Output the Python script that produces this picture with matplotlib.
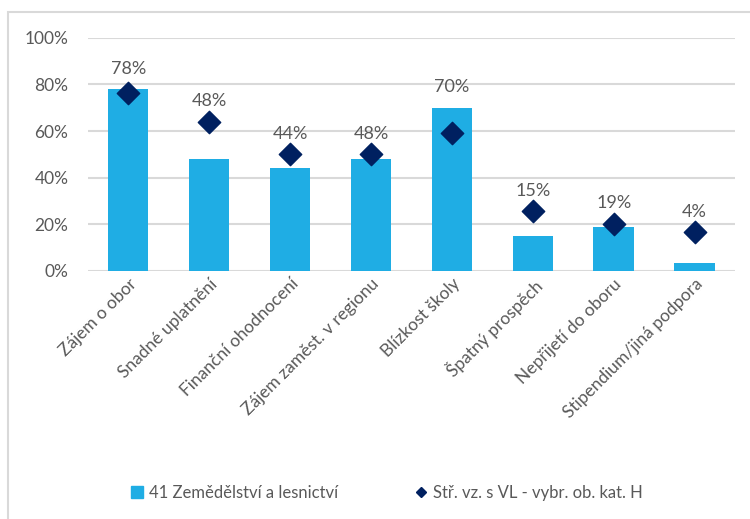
import matplotlib
matplotlib.use("Agg")
import matplotlib.pyplot as plt
from matplotlib.lines import Line2D
from matplotlib.patches import Patch, Rectangle
from matplotlib.ticker import PercentFormatter

categories = ["Zájem o obor", "Snadné uplatnění", "Finanční ohodnocení",
              "Zájem zaměst. v regionu", "Blízkost školy", "Špatný prospěch",
              "Nepřijetí do oboru", "Stipendium/jiná podpora"]
obor_values = [0.78, 0.48, 0.44, 0.48, 0.70, 0.15, 0.19, 0.035]
obor_labels = ["78%", "48%", "44%", "48%", "70%", "15%", "19%", "4%"]
avg_values = [0.765, 0.64, 0.50, 0.50, 0.592, 0.255, 0.203, 0.167]

series_names = ["41 Zemědělství a lesnictví", "Stř. vz. s VL - vybr. ob. kat. H"]

BAR = "#1FADE4"
DIAMOND = "#002060"
TEXT = "#595959"
GRID = "#D9D9D9"

plt.rcParams["font.family"] = ["Lato", "DejaVu Sans"]

fig = plt.figure(figsize=(7.5, 5.19), dpi=100)
ax = fig.add_axes([0.117, 0.478, 0.863, 0.449])

# chart frame (left and top edges visible)
fig.patches.append(Rectangle((8 / 750, -0.1), 1.2, 1.1 - 12 / 519,
                             transform=fig.transFigure, fill=False,
                             edgecolor=GRID, linewidth=1.5))

x = range(len(categories))
ax.bar(x, obor_values, width=0.5, color=BAR, zorder=2)
ax.scatter(x, avg_values, marker="D", s=130, color=DIAMOND, zorder=3)

for i, (v, a, lab) in enumerate(zip(obor_values, avg_values, obor_labels)):
    ax.annotate(lab, (i, max(v, a)), xytext=(0, 9), textcoords="offset points",
                ha="center", va="bottom", fontsize=13, color=TEXT)

ax.set_xlim(-0.5, len(categories) - 0.5)
ax.set_ylim(0, 1)
ax.set_yticks([0, 0.2, 0.4, 0.6, 0.8, 1.0])
ax.yaxis.set_major_formatter(PercentFormatter(1.0, decimals=0))
ax.grid(axis="y", color=GRID, linewidth=1.5, zorder=0)
ax.set_axisbelow(True)
for s in ax.spines.values():
    s.set_visible(False)
ax.tick_params(length=0, labelsize=12.5, labelcolor=TEXT)
ax.tick_params(axis="y", pad=14)
ax.set_xticks(list(x))
ax.set_xticklabels(categories, rotation=45, ha="right", rotation_mode="anchor")

handles = [Patch(color=BAR),
           Line2D([], [], marker="D", color=DIAMOND, linestyle="none", markersize=5.5)]
fig.legend(handles, series_names, loc="center", bbox_to_anchor=(0.516, 0.05),
           ncol=2, frameon=False, fontsize=12, labelcolor=TEXT,
           handlelength=0.7, handletextpad=0.4, columnspacing=4.6)

fig.savefig("out.png", dpi=100)
